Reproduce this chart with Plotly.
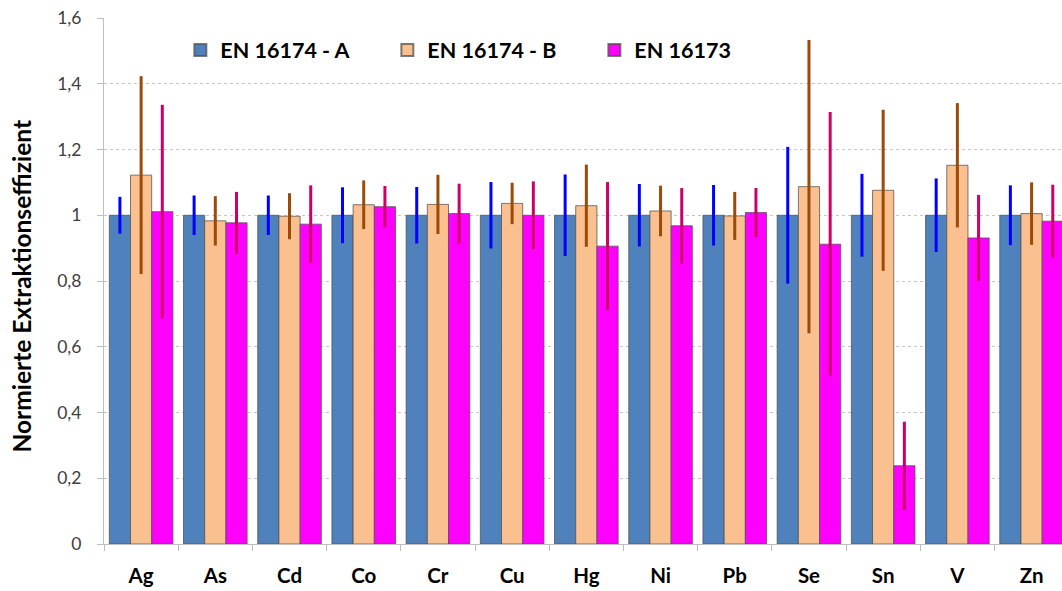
import plotly.graph_objects as go

categories = ["Ag", "As", "Cd", "Co", "Cr", "Cu", "Hg", "Ni", "Pb", "Se", "Sn", "V", "Zn"]

a_values = [1, 1, 1, 1, 1, 1, 1, 1, 1, 1, 1, 1, 1]
a_errors = [0.056, 0.060, 0.060, 0.085, 0.086, 0.101, 0.124, 0.095, 0.092, 0.208, 0.126, 0.112, 0.091]

b_values = [1.122, 0.983, 0.997, 1.032, 1.033, 1.036, 1.029, 1.013, 0.998, 1.087, 1.076, 1.152, 1.005]
b_errors = [0.301, 0.075, 0.070, 0.074, 0.090, 0.063, 0.125, 0.077, 0.073, 0.446, 0.245, 0.189, 0.095]

c_values = [1.011, 0.977, 0.973, 1.026, 1.005, 1.000, 0.906, 0.968, 1.008, 0.912, 0.238, 0.931, 0.982]
c_errors = [0.325, 0.094, 0.118, 0.063, 0.091, 0.103, 0.195, 0.115, 0.075, 0.402, 0.134, 0.131, 0.111]

series = [
    ("EN 16174 - A", a_values, a_errors, "#4F81BD", "#0000FF"),
    ("EN 16174 - B", b_values, b_errors, "#FAC090", "#9C4A06"),
    ("EN 16173", c_values, c_errors, "#FF00FF", "#CC0066"),
]

FONT = "Lato"

fig = go.Figure()
for name, vals, errs, color, ecolor in series:
    fig.add_trace(go.Bar(
        name=name, x=categories, y=vals,
        marker=dict(color=color, line=dict(color="rgba(80,80,80,0.75)", width=1)),
        error_y=dict(type="data", array=errs, visible=True, color=ecolor, thickness=3, width=0),
    ))

fig.update_layout(
    width=1062, height=591,
    margin=dict(l=104, r=0, t=18, b=47),
    paper_bgcolor="white", plot_bgcolor="white",
    barmode="group", bargap=0.143, bargroupgap=0,
    separators=",.",
    font=dict(family=FONT, color="#000000"),
    showlegend=True,
    legend=dict(
        orientation="h", x=0.0797, y=0.939, xanchor="left", yanchor="middle",
        font=dict(family=FONT, size=21.5, color="#000000", weight="bold"),
        entrywidth=162, entrywidthmode="pixels",
        bgcolor="rgba(0,0,0,0)", itemsizing="constant",
    ),
    xaxis=dict(
        type="category", range=[-0.5, 12.41],
        showline=True, linecolor="#BFBFBF", linewidth=1,
        ticks="outside", tickson="boundaries", ticklen=6, tickcolor="#BFBFBF",
        tickfont=dict(family=FONT, size=20.5, color="#000000", weight="bold"),
        ticklabelstandoff=13,
        showgrid=False,
    ),
    yaxis=dict(
        range=[0, 1.6], dtick=0.2,
        showline=True, linecolor="#BFBFBF", linewidth=1,
        ticks="outside", ticklen=6, tickcolor="#BFBFBF",
        tickfont=dict(family=FONT, size=17.5, color="#404040"),
        ticklabelstandoff=12,
        showgrid=True, gridcolor="#C8C8C8", griddash="dot", gridwidth=1,
        zeroline=False,
    ),
    annotations=[dict(
        text="Normierte Extraktionseffizient", textangle=-90,
        xref="paper", yref="paper", x=(22 - 104) / 958, y=0.4895,
        xanchor="center", yanchor="middle", showarrow=False,
        font=dict(family=FONT, size=24.5, color="#000000", weight="bold"),
    )],
)

fig.write_html("out.html")
